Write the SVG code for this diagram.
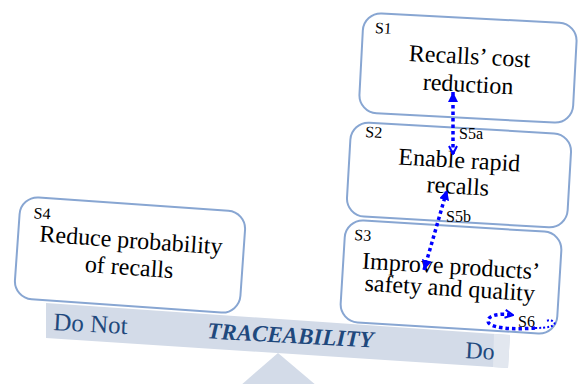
<svg xmlns="http://www.w3.org/2000/svg" width="580" height="384" viewBox="0 0 580 384">
  <defs>
    <style>
      .box { fill: #ffffff; stroke: #88a6d2; stroke-width: 2; }
      .txt { font-family: "Liberation Serif", "Times New Roman", serif; font-size: 24px; fill: #000000; text-anchor: middle; }
      .lbl { font-family: "Liberation Serif", "Times New Roman", serif; font-size: 16px; fill: #000000; }
      .beamtxt { font-family: "Liberation Serif", "Times New Roman", serif; fill: #1f497d; }
      .dot { fill: none; stroke: #0000ff; stroke-width: 3.5; stroke-dasharray: 3.5 3; }
      .dotthin { fill: none; stroke: #0000ff; stroke-width: 2; stroke-dasharray: 2 2; }
    </style>
    <marker id="tri" viewBox="0 0 10 10" refX="10" refY="5" markerWidth="10" markerHeight="10" markerUnits="userSpaceOnUse" orient="auto-start-reverse">
      <path d="M0,0 L10,5 L0,10 z" fill="#0000ff"/>
    </marker>
    <marker id="chev" viewBox="0 0 10 10" refX="9" refY="5" markerWidth="10" markerHeight="10" markerUnits="userSpaceOnUse" orient="auto-start-reverse">
      <path d="M1,1 L9,5 L1,9" fill="none" stroke="#0000ff" stroke-width="2"/>
    </marker>
  </defs>

  <!-- seesaw: fulcrum and beam -->
  <g id="seesaw">
    <polygon points="278,353 240,386 317,386" fill="#d3dbe8"/>
    <polygon points="46,303 510,335 508,368 46,338" fill="#d3dbe8"/>
    <polygon points="494,334 510,335 508,368 493,367" fill="#e2e7ef"/>
    <text class="beamtxt" x="53" y="330" font-size="25" transform="rotate(3.2 53 330)">Do Not</text>
    <text class="beamtxt" x="290" y="343" font-size="23" font-weight="bold" font-style="italic" text-anchor="middle" transform="rotate(3.2 290 343)">TRACEABILITY</text>
    <text class="beamtxt" x="465" y="358" font-size="24" transform="rotate(3.2 465 358)">Do</text>
  </g>

  <!-- S4: left side of the beam -->
  <g id="S4" transform="rotate(4 130 255)">
    <rect class="box" x="17" y="204" width="226" height="102" rx="18"/>
    <text class="lbl" x="31" y="225">S4</text>
    <text class="txt" x="130" y="248">Reduce probability</text>
    <text class="txt" x="130" y="275">of recalls</text>
  </g>

  <!-- S1 -->
  <g id="S1" transform="rotate(3 468 68)">
    <rect class="box" x="361" y="18" width="214" height="100" rx="18"/>
    <text class="lbl" x="373" y="38">S1</text>
    <text class="txt" x="469" y="64">Recalls’ cost</text>
    <text class="txt" x="469" y="92">reduction</text>
  </g>

  <!-- S2 -->
  <g id="S2" transform="rotate(3.3 459 175)">
    <rect class="box" x="348.5" y="128" width="221" height="94" rx="18"/>
    <text class="lbl" x="363" y="142.5">S2</text>
    <text class="txt" x="458.5" y="168">Enable rapid</text>
    <text class="txt" x="458.5" y="194">recalls</text>
  </g>

  <!-- S3 -->
  <g id="S3" transform="rotate(3.5 451 277)">
    <rect class="box" x="342.5" y="226" width="217" height="102" rx="18"/>
    <text class="lbl" x="352" y="246">S3</text>
    <text class="txt" x="450.5" y="274">Improve products’</text>
    <text class="txt" x="450.5" y="296">safety and quality</text>
  </g>

  <!-- connectors -->
  <g id="connectors">
    <path id="S5a" class="dot" d="M453,154 L453,92" marker-start="url(#chev)" marker-end="url(#tri)"/>
    <text class="lbl" x="459" y="139" font-size="17">S5a</text>
    <path id="S5b" class="dot" d="M424,270 L447,190" marker-start="url(#tri)" marker-end="url(#tri)"/>
    <text class="lbl" x="446" y="222" font-size="17">S5b</text>
    <path id="S6" class="dot" d="M535,328 C512,330 488,328 488,321 C488,315 500,313 513,315" marker-end="url(#chev)"/>
    <path class="dotthin" d="M535,328 C548,328 557,326 554,322 C552,320 549,320 546,321"/>
    <text class="lbl" x="518" y="327">S6</text>
  </g>
</svg>
